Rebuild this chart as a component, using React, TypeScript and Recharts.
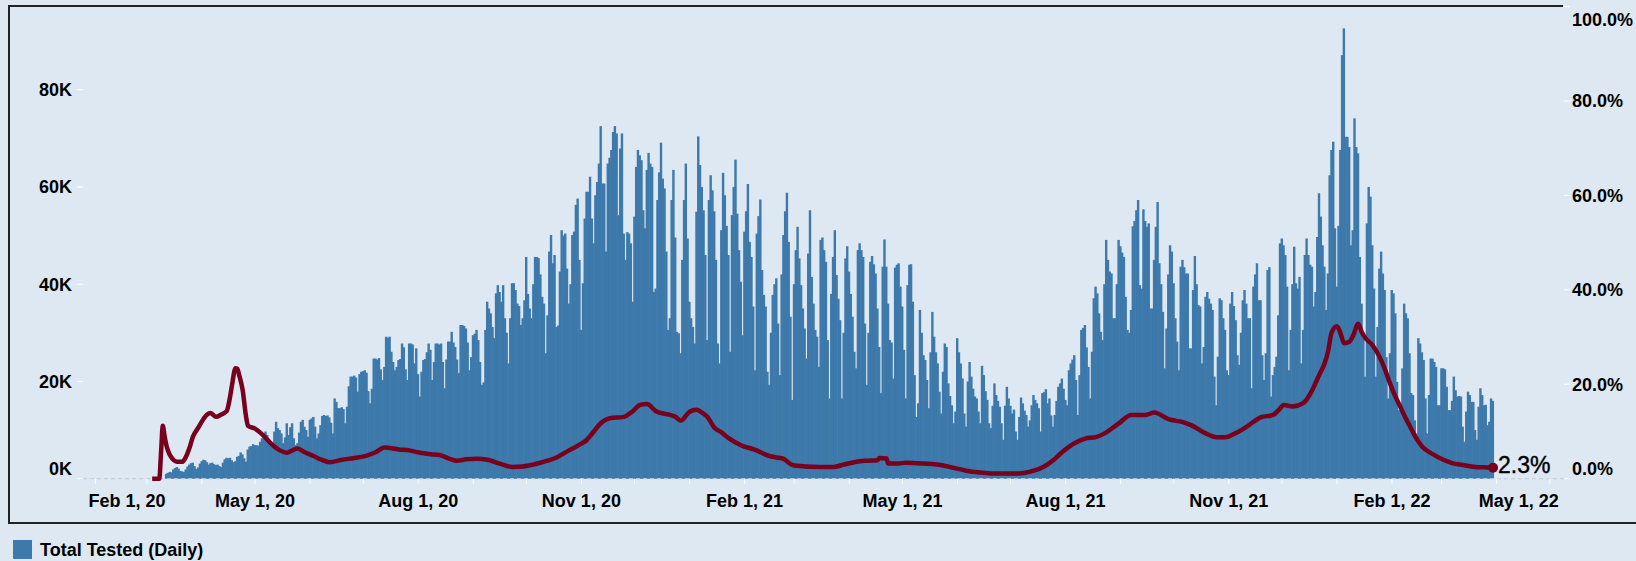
import React from 'react';
import { ComposedChart, Bar, Line, XAxis, YAxis, ReferenceLine } from 'recharts';

document.body.style.margin = '0';

const BAR_COLOR = '#3d79aa';
const LINE_COLOR = '#78001c';
const BG = '#dde8f2';
const FONT = '"Liberation Sans", Arial, Helvetica, sans-serif';

// Total tested per day, in thousands. Each list starts on the date it is paired with below.
const mar2020 = [1.0, 1.2, 1.4, 1.3, 1.9, 2.2, 2.4, 2.1, 1.6, 1.5, 1.4, 1.9, 2.5, 2.9, 3.2, 3.3, 2.6, 2.0, 2.3, 3.1];
const apr2020 = [3.6, 3.9, 3.8, 3.4, 2.9, 3.2, 3.3, 3.0, 2.8, 2.9, 2.6, 2.4, 3.3, 4.0, 4.3, 4.2, 4.3, 3.8, 3.4, 3.6, 4.5, 4.7, 5.4, 5.0, 4.2, 3.5, 6.0, 6.6, 6.7, 7.1];
const may2020 = [6.9, 6.9, 6.8, 7.6, 8.3, 9.4, 9.7, 9.0, 8.0, 7.2, 6.6, 9.7, 11.7, 10.4, 10.0, 9.3, 7.3, 8.5, 11.4, 9.0, 10.6, 11.4, 8.3, 6.9, 7.3, 9.5, 11.7, 12.1, 10.7, 10.0, 8.6];
const jun2020 = [12.1, 12.4, 12.7, 10.7, 8.3, 9.3, 11.0, 12.9, 13.1, 12.9, 13.0, 12.6, 11.5, 9.3, 16.5, 15.8, 14.5, 14.5, 14.7, 14.3, 11.4, 14.8, 19.0, 21.0, 21.0, 21.2, 20.8, 17.9, 21.5, 22.0];
const jul2020 = [22.1, 22.3, 21.8, 18.0, 15.5, 18.5, 24.7, 24.7, 24.5, 24.8, 22.5, 20.3, 23.0, 29.2, 29.0, 29.2, 26.1, 24.0, 22.3, 23.0, 24.4, 24.6, 27.8, 27.0, 22.5, 20.3, 27.8, 27.8, 27.6, 23.7, 26.8];
const aug2020 = [21.5, 16.9, 22.0, 24.4, 24.6, 26.0, 27.8, 26.5, 20.3, 24.0, 27.8, 27.8, 27.6, 27.8, 24.0, 18.6, 24.5, 28.2, 28.2, 30.2, 28.0, 27.1, 24.5, 21.7, 31.6, 31.6, 31.4, 30.9, 28.0, 22.3, 25.0];
const sep2020 = [29.5, 29.8, 30.6, 28.5, 24.0, 19.3, 19.8, 30.6, 36.4, 35.0, 34.0, 31.2, 28.9, 38.1, 39.8, 38.4, 36.4, 39.8, 33.0, 30.0, 23.7, 33.0, 40.2, 40.2, 38.8, 36.0, 35.5, 31.6, 33.0, 36.7];
const oct2020 = [45.6, 38.0, 35.0, 33.0, 40.0, 45.6, 45.6, 45.4, 42.0, 37.4, 36.0, 25.8, 33.6, 46.7, 50.1, 44.3, 46.0, 31.2, 31.5, 42.6, 51.1, 50.0, 50.4, 43.2, 36.0, 40.0, 50.1, 50.8, 56.3, 57.6, 45.0];
const nov2020 = [30.6, 40.2, 53.5, 59.0, 59.0, 62.1, 53.5, 48.4, 58.3, 61.0, 64.8, 72.5, 60.7, 60.7, 46.7, 64.8, 66.0, 67.6, 71.3, 72.5, 71.0, 54.2, 67.9, 71.0, 50.4, 45.0, 50.7, 50.4, 48.4, 36.4];
const dec2020 = [53.9, 64.1, 67.6, 66.5, 65.5, 55.2, 51.5, 63.5, 67.0, 64.8, 64.1, 38.4, 39.1, 57.3, 63.0, 69.1, 61.7, 59.7, 46.7, 30.6, 33.0, 57.3, 63.5, 49.6, 30.2, 29.9, 25.8, 45.0, 57.3, 64.8, 49.4];
const jan2021 = [36.4, 33.0, 31.2, 27.8, 54.9, 70.4, 64.5, 60.0, 55.2, 46.0, 28.5, 57.3, 62.4, 59.3, 55.0, 45.0, 27.8, 23.7, 51.1, 62.9, 58.3, 52.0, 46.0, 26.1, 54.2, 60.0, 65.6, 54.5, 47.0, 40.5, 29.5];
const feb2021 = [50.8, 55.0, 60.6, 48.7, 45.6, 35.4, 22.3, 50.4, 54.0, 57.4, 42.9, 37.8, 35.4, 22.0, 19.3, 30.0, 37.8, 40.0, 41.2, 31.9, 21.3, 42.0, 50.1, 55.0, 58.8, 48.7, 33.3, 16.2];
const mar2021 = [40.0, 47.0, 51.8, 45.3, 39.8, 35.0, 30.9, 24.7, 46.3, 55.2, 41.5, 36.0, 30.6, 29.2, 23.0, 49.1, 49.6, 47.0, 44.6, 28.5, 16.5, 38.0, 45.6, 51.1, 41.9, 37.0, 32.6, 16.5, 30.0, 45.3, 47.8];
const apr2021 = [42.6, 38.0, 33.3, 26.1, 22.7, 47.0, 48.4, 47.0, 45.6, 31.9, 19.3, 30.0, 44.6, 45.8, 44.1, 42.2, 35.0, 27.1, 17.6, 43.6, 49.2, 43.6, 36.0, 28.5, 28.0, 20.6, 43.4, 44.0, 44.3, 39.5];
const may2021 = [35.4, 26.5, 16.5, 39.8, 44.0, 44.1, 36.4, 21.3, 12.7, 15.5, 34.7, 30.0, 25.4, 24.4, 20.3, 14.5, 26.0, 34.3, 29.2, 26.0, 23.7, 17.9, 13.4, 22.0, 27.8, 27.1, 19.6, 17.0, 15.1, 11.4, 13.8];
const jun2021 = [28.9, 26.0, 23.7, 20.6, 13.4, 10.7, 20.0, 24.0, 21.0, 18.5, 16.9, 16.5, 13.8, 11.4, 23.2, 21.3, 18.0, 16.2, 11.4, 10.4, 15.0, 19.6, 17.2, 16.0, 14.8, 11.4, 8.0, 15.0, 18.9, 16.5];
const jul2021 = [15.0, 13.4, 14.2, 9.7, 8.0, 12.7, 16.7, 15.5, 14.0, 13.1, 10.7, 12.0, 15.1, 17.2, 16.2, 15.5, 14.5, 9.7, 17.6, 17.8, 18.4, 15.5, 16.5, 13.0, 10.7, 13.1, 16.0, 18.9, 19.6, 20.6, 18.5];
const aug2021 = [16.2, 15.1, 22.3, 23.7, 24.5, 25.4, 20.3, 13.1, 21.3, 30.6, 31.0, 31.6, 27.0, 23.0, 16.5, 26.1, 37.1, 39.5, 38.1, 34.0, 30.2, 28.5, 40.0, 49.1, 45.0, 42.6, 42.2, 33.0, 33.0, 40.0, 49.1];
const sep2021 = [47.8, 46.5, 45.6, 37.4, 30.6, 30.0, 34.7, 51.9, 53.0, 55.2, 57.3, 39.8, 39.1, 55.4, 53.0, 51.8, 52.5, 35.0, 35.0, 45.0, 51.8, 56.9, 44.3, 40.0, 34.3, 22.7, 30.9, 42.0, 48.0, 46.7];
const oct2021 = [40.2, 33.0, 28.2, 22.3, 43.6, 45.0, 43.5, 42.2, 42.2, 26.8, 26.8, 38.8, 45.8, 40.0, 35.7, 35.4, 23.7, 27.1, 37.4, 38.4, 37.0, 36.0, 34.7, 21.0, 15.1, 25.1, 37.1, 36.7, 33.0, 30.6, 22.3];
const nov2021 = [21.3, 36.0, 38.4, 35.5, 32.6, 25.4, 23.4, 30.0, 36.7, 38.8, 36.0, 33.0, 33.0, 18.6, 39.5, 42.0, 44.3, 36.7, 36.7, 25.4, 20.3, 25.8, 42.9, 43.5, 16.9, 21.3, 23.0, 25.1, 33.6, 48.4];
const dec2021 = [49.4, 48.0, 46.0, 39.5, 22.3, 30.6, 40.0, 47.7, 40.2, 39.1, 41.5, 23.7, 30.6, 46.0, 49.4, 46.0, 44.0, 43.6, 35.4, 38.4, 49.7, 58.7, 53.9, 48.0, 43.6, 34.7, 42.2, 62.4, 67.6, 69.3, 51.5];
const jan2022 = [39.5, 52.0, 67.6, 87.1, 92.6, 70.3, 70.3, 68.2, 48.0, 51.1, 74.1, 68.2, 66.9, 45.6, 36.0, 30.0, 21.0, 52.5, 60.0, 58.0, 48.0, 39.1, 21.0, 31.2, 43.2, 46.7, 42.2, 38.8, 25.0, 16.5, 25.8];
const feb2022 = [38.8, 38.1, 34.0, 19.9, 14.1, 14.1, 22.7, 36.0, 34.0, 33.0, 25.8, 17.6, 17.2, 12.0, 9.3, 28.9, 27.8, 26.0, 24.4, 16.5, 9.3, 17.2, 24.7, 24.7, 24.0, 23.0, 15.1, 15.1];
const mar2022 = [22.7, 22.7, 22.5, 18.9, 14.1, 14.1, 16.0, 21.0, 18.2, 16.9, 17.0, 16.9, 10.7, 7.6, 13.8, 17.9, 17.2, 15.8, 15.8, 10.0, 8.0, 14.8, 18.6, 17.2, 15.1, 15.2, 11.0, 11.7, 16.5, 16.0];

const testedByMonth: Array<[string, number[]]> = [
  ['2020-03-12', mar2020], ['2020-04-01', apr2020], ['2020-05-01', may2020], ['2020-06-01', jun2020],
  ['2020-07-01', jul2020], ['2020-08-01', aug2020], ['2020-09-01', sep2020], ['2020-10-01', oct2020],
  ['2020-11-01', nov2020], ['2020-12-01', dec2020], ['2021-01-01', jan2021], ['2021-02-01', feb2021],
  ['2021-03-01', mar2021], ['2021-04-01', apr2021], ['2021-05-01', may2021], ['2021-06-01', jun2021],
  ['2021-07-01', jul2021], ['2021-08-01', aug2021], ['2021-09-01', sep2021], ['2021-10-01', oct2021],
  ['2021-11-01', nov2021], ['2021-12-01', dec2021], ['2022-01-01', jan2022], ['2022-02-01', feb2022],
  ['2022-03-01', mar2022],
];

// positivity rate (%), as [days since Feb 1 2020, value]
const positivity: Array<[number, number]> = [
  [32, 0], [36, 0], [37, 5.5], [38, 11.2], [39, 9.0], [40, 7.1], [42, 5.0], [44, 4.0], [46, 3.6], [49, 3.6],
  [51, 4.6], [53, 6.5], [55, 8.9], [58, 10.8], [61, 12.7], [63, 13.6], [65, 13.9], [68, 13.1], [71, 13.6], [74, 14.3],
  [76, 17.5], [77, 19.8], [79, 23.4], [80, 23.3], [81, 22.0], [83, 18.8], [85, 13.0], [86, 11.2], [90, 10.6], [94, 9.4],
  [100, 7.1], [104, 6.0], [108, 5.5], [111, 6.0], [114, 6.4], [118, 5.6], [123, 4.8], [127, 4.1], [132, 3.5], [139, 4.0],
  [146, 4.4], [153, 4.9], [158, 5.6], [163, 6.6], [171, 6.2], [177, 6.0], [183, 5.5], [189, 5.2], [194, 5.0], [204, 3.8],
  [209, 4.1], [215, 4.2], [221, 4.0], [228, 3.2], [235, 2.5], [241, 2.6], [247, 3.0], [253, 3.6], [260, 4.5], [267, 6.0],
  [273, 7.2], [277, 8.2], [281, 10.0], [284, 11.4], [290, 12.8], [298, 13.1], [303, 14.3], [307, 15.6], [311, 15.8], [316, 14.3],
  [324, 13.5], [327, 13.1], [330, 12.3], [335, 14.2], [339, 14.6], [342, 14.0], [345, 13.1], [349, 10.8], [353, 9.8], [357, 8.6],
  [364, 7.1], [372, 6.1], [380, 4.8], [384, 4.5], [388, 4.2], [393, 2.9], [400, 2.6], [408, 2.5], [416, 2.5], [422, 3.0],
  [429, 3.6], [435, 3.8], [441, 3.9], [442, 4.4], [446, 4.3], [447, 3.2], [452, 3.2], [457, 3.4], [467, 3.2], [478, 2.8],
  [484, 2.3], [491, 1.7], [499, 1.3], [506, 1.1], [520, 1.1], [529, 1.7], [535, 2.6], [540, 3.9], [545, 5.6], [552, 7.5],
  [558, 8.5], [564, 8.8], [569, 9.6], [577, 11.7], [584, 13.5], [592, 13.5], [597, 14.0], [605, 12.6], [614, 11.9], [618, 11.3],
  [626, 9.6], [632, 8.8], [637, 8.8], [642, 9.5], [647, 10.5], [651, 11.5], [657, 13.0], [664, 13.5], [667, 14.5], [670, 15.6],
  [675, 15.3], [681, 16.0], [685, 18.0], [687, 19.5], [690, 22.0], [693, 24.4], [695, 27.0], [697, 31.0], [700, 32.3], [702, 30.8],
  [704, 28.7], [707, 29.0], [709, 30.2], [712, 32.8], [714, 31.0], [716, 29.8], [720, 28.3], [724, 25.8], [727, 23.2], [729, 21.1],
  [732, 18.2], [735, 15.8], [738, 13.4], [741, 11.2], [744, 9.0], [748, 6.8], [754, 5.2], [760, 4.0], [765, 3.3], [771, 2.9],
  [778, 2.5], [783, 2.4], [788, 2.3],
];

const axisLabels = ['Feb 1, 20', 'May 1, 20', 'Aug 1, 20', 'Nov 1, 20', 'Feb 1, 21', 'May 1, 21', 'Aug 1, 21', 'Nov 1, 21', 'Feb 1, 22', 'May 1, 22'];
const axisLabelDates = ['2020-02-01', '2020-05-01', '2020-08-01', '2020-11-01', '2021-02-01', '2021-05-01', '2021-08-01', '2021-11-01', '2022-02-01', '2022-05-01'];
const leftTicks = [0, 20, 40, 60, 80];
const rightTicks = [0, 20, 40, 60, 80, 100];

const ORIGIN = Date.UTC(2020, 1, 1);
const DAY = 86400000;
const dayOf = (iso: string) => {
  const [y, m, d] = iso.split('-').map(Number);
  return Math.round((Date.UTC(y, m - 1, d) - ORIGIN) / DAY);
};

const barData = testedByMonth.flatMap(([start, values]) => {
  const d0 = dayOf(start);
  return values.map((v, i) => ({ day: d0 + i, tested: v }));
});
const lineData = positivity.map(([day, pct]) => ({ day, pct }));

// a tick mark on the first of every month, Feb 2020 .. May 2022
const monthTicks: number[] = [];
for (let i = 0; i < 28; i++) {
  const y = 2020 + Math.floor((1 + i) / 12);
  const m = (1 + i) % 12;
  monthTicks.push(Math.round((Date.UTC(y, m, 1) - ORIGIN) / DAY));
}
const labelByDay = new Map<number, string>(axisLabelDates.map((d, i) => [dayOf(d), axisLabels[i]]));
const firstLabelDay = dayOf(axisLabelDates[0]);
const lastLabelDay = dayOf(axisLabelDates[axisLabelDates.length - 1]);

const textStyle = { fontFamily: FONT, fontWeight: 700, fontSize: 18, fill: '#000' };

const XTick = (props: any) => {
  const { x, payload } = props;
  const label = labelByDay.get(payload.value);
  if (!label) return <g />;
  let anchor: 'start' | 'middle' | 'end' = 'middle';
  let tx = x;
  if (payload.value === firstLabelDay) { anchor = 'start'; tx = x - 7; }
  if (payload.value === lastLabelDay) { anchor = 'end'; tx = x + 9; }
  return <text x={tx} y={507} textAnchor={anchor} {...textStyle}>{label}</text>;
};

const LeftTick = (props: any) => {
  const { y, payload } = props;
  const shift = payload.value === 0 ? -10 : 0;
  return <text x={72} y={y + 6.4 + shift} textAnchor="end" {...textStyle}>{payload.value}K</text>;
};

const RightTick = (props: any) => {
  const { y, payload } = props;
  const shift = payload.value === 0 ? -10 : payload.value === 100 ? 11 : 0;
  return <text x={1572} y={y + 6.4 + shift} textAnchor="start" {...textStyle}>{payload.value.toFixed(1)}%</text>;
};

// one day is ~1.8px wide; draw each bar 2.4px around its centre so neighbours touch
const DayBar = (props: any) => {
  const { x, y, width, height } = props;
  if (!height || height <= 0) return <g />;
  const mid = x + width / 2;
  return <rect x={mid - 1.2} y={y} width={2.4} height={height} fill={BAR_COLOR} />;
};

const EndDot = (props: any) => {
  const { cx, cy, index, payload } = props;
  if (index !== lineData.length - 1) return <g key={`dot-${index}`} />;
  return (
    <g key="dot-end">
      <circle cx={cx} cy={cy} r={5} fill={LINE_COLOR} />
      <text x={cx + 5} y={cy + 5} fontFamily={FONT} fontSize={23} fill="#000" stroke="#000" strokeWidth={0.4}>
        {payload.pct.toFixed(1)}%
      </text>
    </g>
  );
};

export default function App() {
  return (
    <div style={{ position: 'relative', width: 1636, height: 561, background: BG, overflow: 'hidden' }}>
      <ComposedChart width={1636} height={561} data={barData} margin={{ top: 6.5, right: 0, bottom: 52.3, left: 8 }}>
        <XAxis
          dataKey="day"
          type="number"
          domain={[-7, 828]}
          ticks={monthTicks}
          interval={0}
          allowDataOverflow
          axisLine={false}
          tickLine={{ stroke: '#ffffff' }}
          tickSize={5}
          height={30}
          tick={<XTick />}
        />
        <YAxis
          yAxisId="left"
          orientation="left"
          domain={[0, 97.1]}
          ticks={leftTicks}
          width={75}
          axisLine={false}
          tickLine={{ stroke: '#ffffff' }}
          tickSize={6}
          tick={<LeftTick />}
        />
        <YAxis
          yAxisId="right"
          orientation="right"
          domain={[0, 100]}
          ticks={rightTicks}
          width={72}
          axisLine={false}
          tickLine={{ stroke: '#ffffff' }}
          tickSize={6}
          tick={<RightTick />}
        />
        <ReferenceLine yAxisId="left" y={0} stroke="#c3cbd4" strokeDasharray="4 3" />
        <Bar yAxisId="left" dataKey="tested" fill={BAR_COLOR} shape={DayBar} isAnimationActive={false} />
        <Line
          yAxisId="right"
          data={lineData}
          dataKey="pct"
          type="monotone"
          stroke={LINE_COLOR}
          strokeWidth={4.5}
          dot={EndDot}
          activeDot={false}
          isAnimationActive={false}
        />
      </ComposedChart>

      {/* frame */}
      <div style={{ position: 'absolute', left: 8, top: 5, width: 1555, height: 1.5, background: '#222' }} />
      <div style={{ position: 'absolute', left: 8, top: 5, width: 1.5, height: 518, background: '#222' }} />
      <div style={{ position: 'absolute', left: 8, top: 522, width: 1628, height: 1.5, background: '#222' }} />

      {/* legend */}
      <div style={{ position: 'absolute', left: 13, top: 540, width: 19, height: 19, background: BAR_COLOR }} />
      <div style={{ position: 'absolute', left: 40, top: 540, lineHeight: '20px', fontFamily: FONT, fontWeight: 700, fontSize: 18, color: '#000' }}>
        Total Tested (Daily)
      </div>
    </div>
  );
}
